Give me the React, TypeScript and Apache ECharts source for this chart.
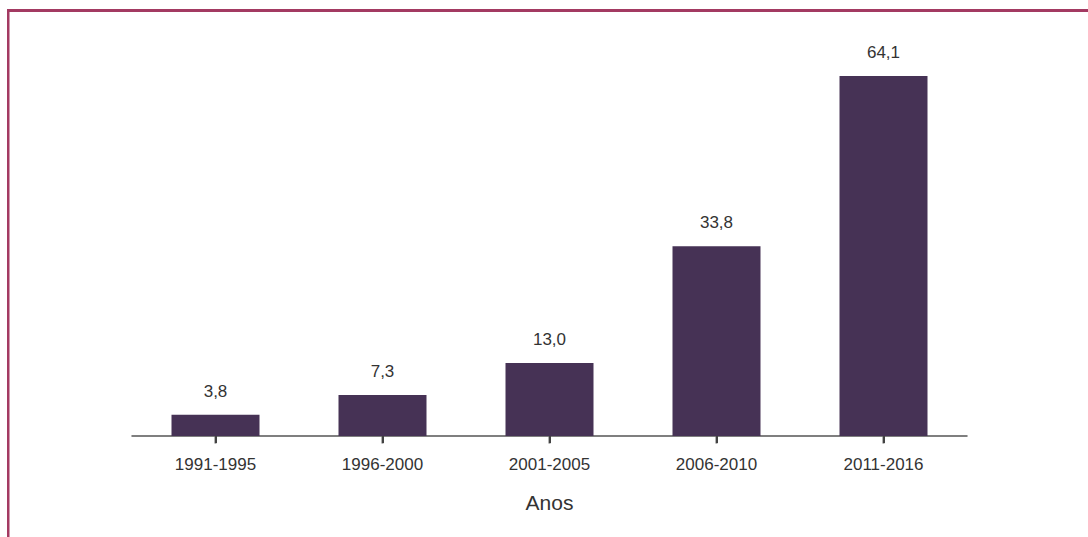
import React, { useEffect, useRef } from "react";
import * as echarts from "echarts";

const categories = ["1991-1995", "1996-2000", "2001-2005", "2006-2010", "2011-2016"];
const values = [3.8, 7.3, 13.0, 33.8, 64.1];
const tickBase = [0, 0, 0, 0, 0];
const axisName = "Anos";

export default function App() {
  const ref = useRef<HTMLDivElement>(null);
  useEffect(() => {
    document.body.style.margin = "0";
    const chart = echarts.init(ref.current!, null, { renderer: "svg" });
    chart.setOption({
      animation: false,
      backgroundColor: "#ffffff",
      textStyle: { fontFamily: "Liberation Sans, Arial, sans-serif" },
      grid: { left: 132, right: 121, top: 43, bottom: 101 },
      xAxis: {
        type: "category",
        data: categories,
        name: axisName,
        nameLocation: "middle",
        nameGap: 56,
        nameTextStyle: { fontSize: 21, color: "#333333" },
        axisLine: { show: true, lineStyle: { color: "#555555", width: 1.5 } },
        axisTick: {
          show: true,
          interval: 0,
          alignWithLabel: true,
          length: 7,
          lineStyle: { color: "#444444", width: 2 },
        },
        axisLabel: { fontSize: 17, color: "#333333", margin: 20, interval: 0 },
      },
      yAxis: {
        type: "value",
        min: 0,
        max: 70,
        show: false,
        splitLine: { show: false },
      },
      series: [
        {
          type: "bar",
          data: values,
          barWidth: 88,
          itemStyle: { color: "#463255" },
          label: {
            show: true,
            position: "top",
            distance: 15,
            fontSize: 17,
            color: "#333333",
            formatter: (p: any) => Number(p.value).toFixed(1).replace(".", ","),
          },
        },
        {
          type: "scatter",
          data: tickBase,
          symbol: "rect",
          symbolSize: [2, 7],
          symbolOffset: [0, 4],
          clip: false,
          silent: true,
          itemStyle: { color: "#444444" },
          z: 5,
        },
      ],
      graphic: [
        { type: "rect", shape: { x: 7, y: 9, width: 1081, height: 3 }, style: { fill: "#a33a62" } },
        { type: "rect", shape: { x: 7, y: 9, width: 2.5, height: 528 }, style: { fill: "#a33a62" } },
      ],
    });
    return () => chart.dispose();
  }, []);
  return <div ref={ref} style={{ width: 1088, height: 537 }} />;
}
